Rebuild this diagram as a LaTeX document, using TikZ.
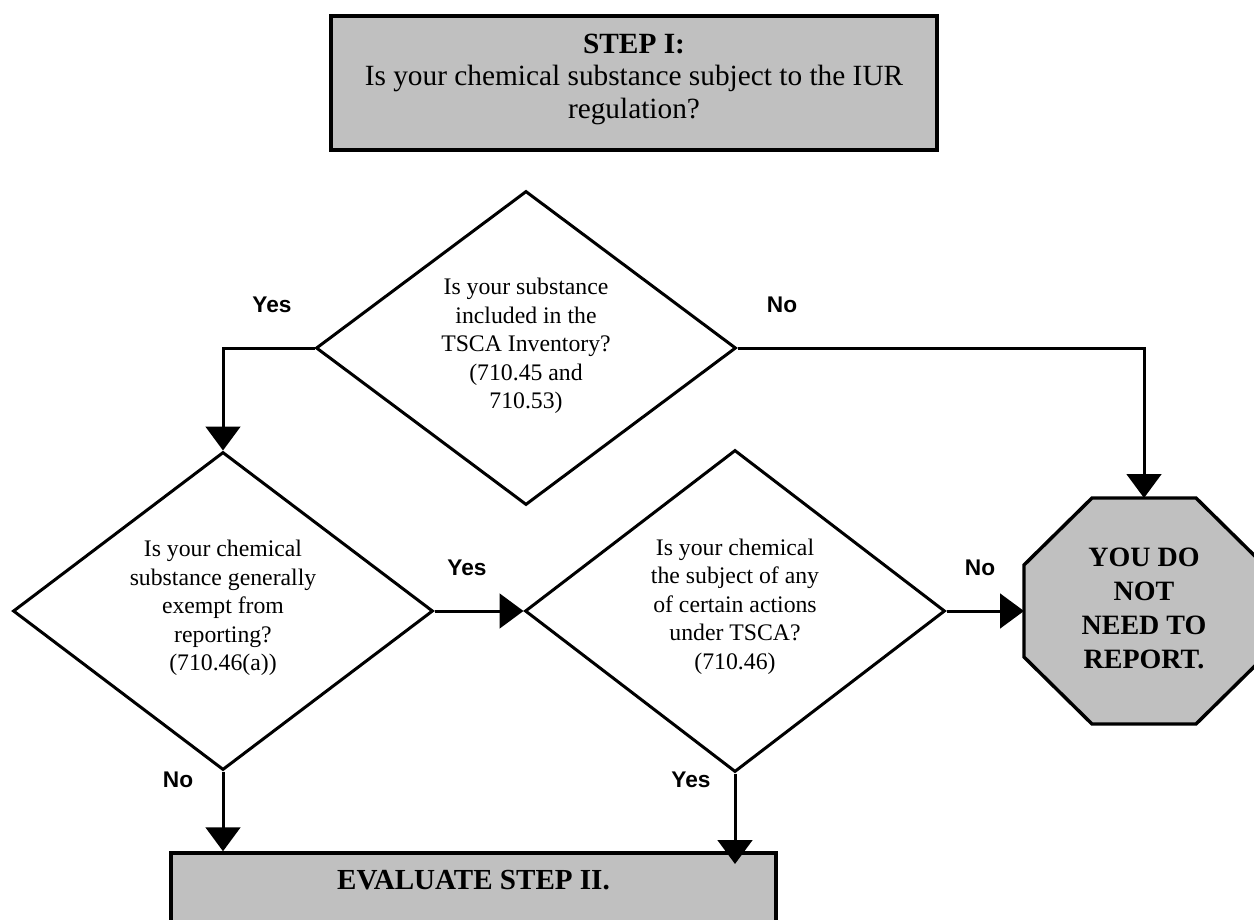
\documentclass[tikz,border=0pt]{standalone}
\usepackage{fontspec}
\setmainfont{Liberation Serif}
\newfontfamily\lsans{Liberation Sans}
\usetikzlibrary{shapes.geometric,arrows.meta}
\definecolor{boxgray}{HTML}{C0C0C0}
\tikzset{
  conn/.style={line width=2.25pt},
  arr/.style={conn, -{Triangle[width=26pt,length=18pt]}},
  dia/.style={draw, line width=2.25pt, diamond, inner sep=0pt, minimum width=315pt},
  qtext/.style={align=center, font=\fontsize{17.8}{21.3}\selectfont, inner sep=0pt},
  lbl/.style={font=\lsans\bfseries\fontsize{17}{20}\selectfont, inner sep=0pt},
  grayshape/.style={draw, fill=boxgray, line width=2.6pt},
}
\begin{document}
\begin{tikzpicture}[x=0.75pt,y=-0.75pt]
\useasboundingbox (0,0) rectangle (1254,920);
\clip (0,0) rectangle (1254,920);
% top box
\node[grayshape, rectangle, minimum width=454.5pt, minimum height=100.5pt, inner sep=0pt] (top) at (634,83) {};
\node[align=center, inner sep=0pt, font=\fontsize{22}{24.4}\selectfont] (toptext) at (634,79)
  {\textbf{STEP I:}\\Is your chemical substance subject to the IUR\\regulation?};
% diamonds
\node[dia, minimum height=235.5pt] (d1) at (526,348) {};
\node[qtext] (t1) at (526,346) {Is your substance\\included in the\\TSCA Inventory?\\(710.45 and\\710.53)};
\node[dia, minimum height=238.5pt] (d2) at (223,611) {};
\node[qtext] (t2) at (223,608) {Is your chemical\\substance generally\\exempt from\\reporting?\\(710.46(a))};
\node[dia, minimum height=241.5pt] (d3) at (735,611) {};
\node[qtext] (t3) at (735,606.5) {Is your chemical\\the subject of any\\of certain actions\\under TSCA?\\(710.46)};
% octagon
\node[minimum width=180pt, minimum height=169.5pt, inner sep=0pt, outer sep=0pt] (oct) at (1144,611) {};
\draw[grayshape] ([xshift=51pt]oct.north west) -- ([xshift=-51pt]oct.north east)
  -- ([yshift=-50.25pt]oct.north east) -- ([yshift=50.25pt]oct.south east)
  -- ([xshift=-51pt]oct.south east) -- ([xshift=51pt]oct.south west)
  -- ([yshift=50.25pt]oct.south west) -- ([yshift=-50.25pt]oct.north west) -- cycle;
\node[align=center, inner sep=0pt, font=\bfseries\fontsize{21}{25.3}\selectfont] (octtext) at (1144,608.5)
  {YOU DO\\NOT\\NEED TO\\REPORT.};
% bottom box
\node[grayshape, rectangle, minimum width=453.75pt, minimum height=97.5pt, inner sep=0pt] (bot) at (473.5,918) {};
\node[inner sep=0pt, font=\bfseries\fontsize{21.8}{24}\selectfont] (bottext) at (473.5,880) {EVALUATE STEP II.};
% connectors
\draw[arr] (d1.west) -| (d2.north);
\draw[arr] (d1.east) -| (oct.north);
\draw[arr] (d2.east) -- (d3.west);
\draw[arr] (d3.east) -- (d3.east -| oct.west);
\draw[arr] (d2.south) -- (d2.south |- bot.north);
\coordinate (y3end) at (735,864);
\draw[arr] (d3.south) -- (y3end);
% labels
\node[lbl] (l1) at (272,305) {Yes};
\node[lbl] (l2) at (782,305) {No};
\node[lbl] (l3) at (467,568) {Yes};
\node[lbl] (l4) at (980,568) {No};
\node[lbl] (l5) at (178,780) {No};
\node[lbl] (l6) at (691,780) {Yes};
\end{tikzpicture}
\end{document}
